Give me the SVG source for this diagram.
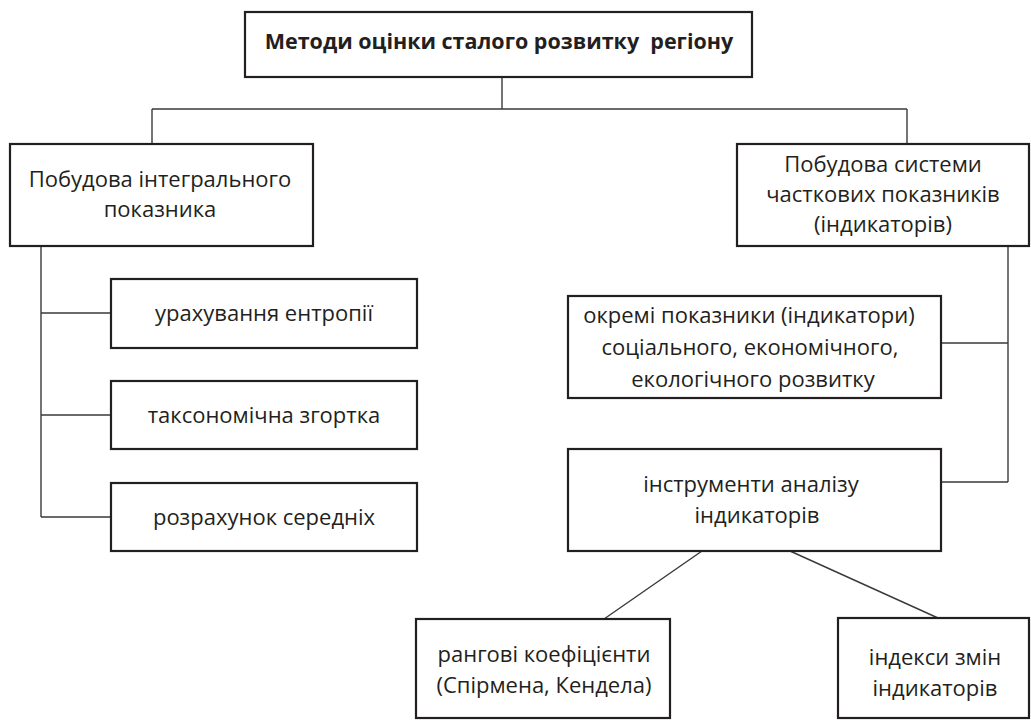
<svg xmlns="http://www.w3.org/2000/svg" width="1031" height="720" viewBox="0 0 1031 720">
<style>
.box{fill:#fff;stroke:#231f20;stroke-width:2.2}
.t{font-family:"Open Sans","Noto Sans",sans-serif;font-size:22px;fill:#231f20;text-anchor:middle}
.b{font-weight:bold;font-size:21.5px}
.c{fill:none;stroke:#3a3a3a;stroke-width:1.4}
</style>
<rect width="1031" height="720" fill="#fff"/>
<g id="connectors">
<path class="c" d="M502,77 V109 M152,109 H907 M152,109 V144 M907,109 V144"/>
<path class="c" d="M41,246 V517 M41,313 H111 M41,415 H111 M41,517 H111"/>
<path class="c" d="M1008,246 V482 M941,343 H1008 M941,482 H1008"/>
<path class="c" d="M702,551 L604,619 M790,551 L938,618"/>
</g>
<g id="n0"><rect class="box" x="245" y="12" width="507" height="65"/><text class="t b" x="499" y="49" xml:space="preserve">Методи оцінки сталого розвитку  регіону</text></g>
<g id="n1"><rect class="box" x="10" y="144" width="303" height="102"/><text class="t" x="160" y="187">Побудова інтегрального</text><text class="t" x="160" y="217">показника</text></g>
<g id="n2"><rect class="box" x="737" y="144" width="292" height="102"/><text class="t" x="883" y="172">Побудова системи</text><text class="t" x="883" y="202">часткових показників</text><text class="t" x="883" y="232">(індикаторів)</text></g>
<g id="n3"><rect class="box" x="111" y="279" width="306" height="69"/><text class="t" x="264" y="321">урахування ентропії</text></g>
<g id="n4"><rect class="box" x="111" y="381" width="306" height="68"/><text class="t" x="264" y="423">таксономічна згортка</text></g>
<g id="n5"><rect class="box" x="111" y="483" width="306" height="68"/><text class="t" x="264" y="525">розрахунок середніх</text></g>
<g id="n6"><rect class="box" x="568" y="296" width="373" height="102"/><text class="t" x="749" y="323">окремі показники (індикатори)</text><text class="t" x="750" y="355">соціального, економічного,</text><text class="t" x="753" y="387">екологічного розвитку</text></g>
<g id="n7"><rect class="box" x="568" y="449" width="373" height="102"/><text class="t" x="751" y="492">інструменти аналізу</text><text class="t" x="757" y="523">індикаторів</text></g>
<g id="n8"><rect class="box" x="416" y="619" width="254" height="99"/><text class="t" x="544" y="662">рангові коефіцієнти</text><text class="t" x="544" y="693">(Спірмена, Кендела)</text></g>
<g id="n9"><rect class="box" x="838" y="618" width="191" height="100"/><text class="t" x="935" y="665">індекси змін</text><text class="t" x="935" y="696">індикаторів</text></g>
</svg>
